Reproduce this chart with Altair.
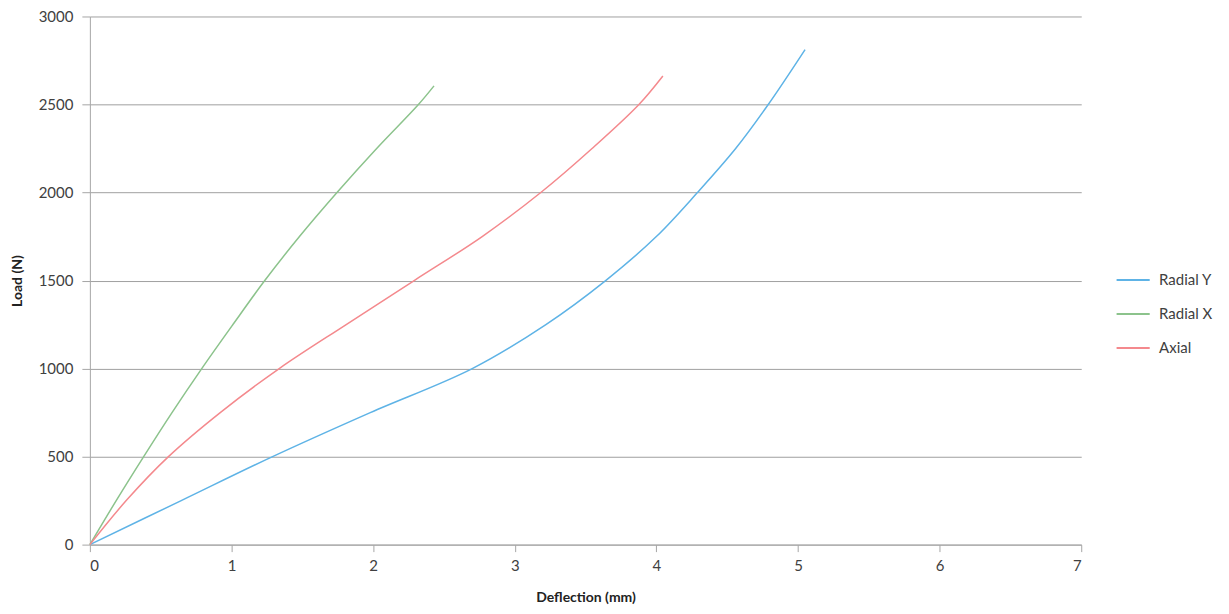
import altair as alt
import pandas as pd

series_names = ["Radial Y", "Radial X", "Axial"]
colors = ["#5eb3e6", "#8cc38c", "#f4898d"]

radial_y_x = [0.0, 0.645, 1.29, 1.98, 2.70, 3.22, 3.642, 4.0, 4.29, 4.56, 4.79, 5.05]
radial_y_y = [0, 250, 500, 750, 1000, 1250, 1500, 1750, 2000, 2250, 2500, 2812]

radial_x_x = [0.0, 0.186, 0.38, 0.58, 0.79, 1.01, 1.235, 1.48, 1.745, 2.025, 2.32, 2.43]
radial_x_y = [0, 250, 500, 750, 1000, 1250, 1500, 1750, 2000, 2250, 2500, 2606]

axial_x = [0.0, 0.263, 0.555, 0.925, 1.337, 1.81, 2.29, 2.77, 3.184, 3.546, 3.877, 4.046]
axial_y = [0, 256, 500, 753, 1000, 1250, 1500, 1750, 2000, 2250, 2500, 2662]

rows = []
for name, xs, ys in [("Radial Y", radial_y_x, radial_y_y),
                     ("Radial X", radial_x_x, radial_x_y),
                     ("Axial", axial_x, axial_y)]:
    for i, (a, b) in enumerate(zip(xs, ys)):
        rows.append({"series": name, "deflection": a, "load": b, "order": i})
df = pd.DataFrame(rows)

font = "Lato"
chart = alt.Chart(df).mark_line(interpolate="catmull-rom", strokeWidth=1.5).encode(
    x=alt.X("deflection:Q", title="Deflection (mm)",
            scale=alt.Scale(domain=[0, 7], nice=False),
            axis=alt.Axis(values=[0, 1, 2, 3, 4, 5, 6, 7], grid=False, tickSize=7,
                          format="d",
                          labelFontSize=15, labelColor="#404040", labelPadding=7,
                          titleFontSize=14, titleFont=font, labelFont=font,
                          titleColor="#222222", titlePadding=17,
                          domainColor="#a6a6a6", tickColor="#a6a6a6")),
    y=alt.Y("load:Q", title="Load (N)",
            scale=alt.Scale(domain=[0, 3000], nice=False),
            axis=alt.Axis(values=[0, 500, 1000, 1500, 2000, 2500, 3000], grid=True,
                          format="d",
                          gridColor="#a0a0a0", gridWidth=1, tickSize=8,
                          labelFontSize=15, labelColor="#404040", labelPadding=9,
                          titleFontSize=14, titleFont=font, labelFont=font,
                          titleColor="#222222", titlePadding=14,
                          domainColor="#a6a6a6", tickColor="#a6a6a6")),
    color=alt.Color("series:N", sort=series_names,
                    scale=alt.Scale(domain=series_names, range=colors),
                    legend=alt.Legend(title=None, orient="none", legendX=1027, legendY=256,
                                      symbolType="stroke", symbolSize=1100, symbolStrokeWidth=2,
                                      clipHeight=16,
                                      labelFontSize=15, labelFont=font, labelColor="#404040",
                                      rowPadding=18, labelOffset=8)),
    order="order:Q",
).properties(
    width=993, height=529,
    autosize=alt.AutoSizeParams(type="none"),
    padding={"left": 82, "top": 8, "right": 140, "bottom": 66},
).configure_view(stroke=None)

chart.save("out.html", embed_options={"renderer": "svg", "actions": False})
